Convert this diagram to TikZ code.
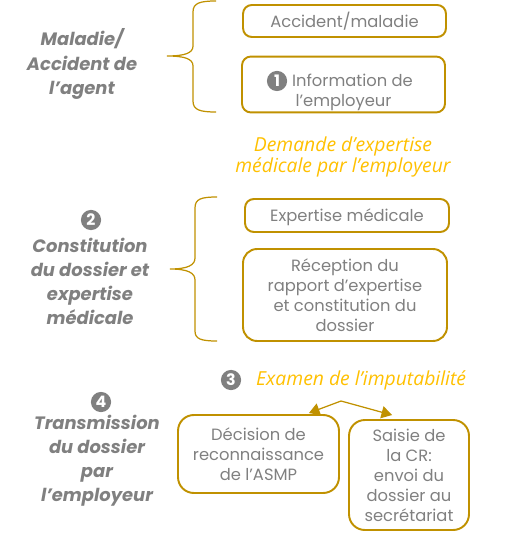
\documentclass[tikz,border=0pt]{standalone}
\usepackage{fontspec}
\setmainfont{Poppins}
\newfontfamily\handfont{Open Sans}
\usetikzlibrary{arrows.meta,positioning,calc}
\definecolor{gold}{HTML}{C09100}
\definecolor{txtgray}{HTML}{808080}
\definecolor{hand}{HTML}{FFC000}
\tikzset{
  stepbox/.style={draw=gold, line width=1.1pt, rounded corners=5pt, text=txtgray, align=center, font=\fontsize{9.3}{11.4}\selectfont, inner sep=1pt},
  phase/.style={text=txtgray, align=center, font=\fontsize{10.2}{13.7}\selectfont\bfseries\itshape},
  numdot/.style={circle, fill=txtgray, text=white, inner sep=0pt, minimum size=11.5pt, font=\fontsize{9}{9}\selectfont\bfseries},
  handnote/.style={text=hand, align=center, font=\handfont\itshape\fontsize{11}{10.5}\selectfont},
  curly/.style={draw=gold, line width=0.7pt},
  arr/.style={draw=gold, line width=0.7pt, -{Triangle[width=7pt,length=6pt]}, fill=gold}
}

\begin{document}
\begin{tikzpicture}[x=0.02cm, y=-0.02cm]
  \useasboundingbox (0,0) rectangle (523,540);

  % phase 1
  \node[phase] (agent) at (82,64) {Maladie/\\Accident de\\l’agent};
  \draw[curly] (216,1) .. controls (200,1) and (193,3) .. (193,12) -- (193,46)
    .. controls (193,53) and (185,56) .. (167,56)
    .. controls (185,56) and (193,59) .. (193,66) -- (193,101)
    .. controls (193,110) and (200,112) .. (216,112);
  \node[stepbox, minimum width=4.06cm, minimum height=0.64cm] (accident) at (344.5,21) {\rule{0pt}{9pt}Accident/maladie};
  \node[stepbox, minimum width=4.06cm, minimum height=1.06cm] (info) at (343.5,84.5) {\rule{0pt}{16pt}\hspace*{1.1em}Information de\\l’employeur};
  \node[numdot] (n1) at (277,81) {1};

  \node[handnote] (demande) at (343,157) {Demande d’expertise\\médicale par l’employeur};

  % phase 2
  \node[numdot] (n2) at (91,220) {2};
  \node[phase] (dossier) at (90,281) {Constitution\\du dossier et\\expertise\\médicale};
  \draw[curly] (217,197) .. controls (201,197) and (195,199) .. (195,208) -- (195,258)
    .. controls (195,265) and (188,269) .. (170,269)
    .. controls (188,269) and (195,273) .. (195,280) -- (195,331)
    .. controls (195,339) and (201,341) .. (217,341);
  \node[stepbox, minimum width=4.08cm, minimum height=0.66cm] (expertise) at (347,215.5) {\rule{0pt}{9pt}Expertise médicale};
  \node[stepbox, minimum width=4.08cm, minimum height=1.84cm, rounded corners=8pt] (rapport) at (345,295) {Réception du\\rapport d’expertise\\et constitution du\\dossier};

  % phase 3
  \node[numdot] (n3) at (231,380) {3};
  \node[handnote, anchor=west] (examen) at (250,380) {Examen de l’imputabilité};
  \coordinate (split) at (341,401);
  \node[stepbox, minimum width=3.22cm, minimum height=1.56cm, rounded corners=9pt] (decision) at (258.5,454) {Décision de\\reconnaissance\\de l’ASMP};
  \node[stepbox, minimum width=2.4cm, minimum height=2.2cm, rounded corners=9pt] (saisie) at (409,475) {Saisie de\\la CR:\\envoi du\\dossier au\\secrétariat};
  \draw[arr] (split) -- ($(decision.north east)+(-31,-1)$);
  \draw[arr] (split) -- ($(saisie.north west)+(44,-4)$);

  % phase 4
  \node[numdot] (n4) at (101,402) {4};
  \node[phase] (transmission) at (97,461) {Transmission\\du dossier\\par\\l’employeur};
\end{tikzpicture}
\end{document}
